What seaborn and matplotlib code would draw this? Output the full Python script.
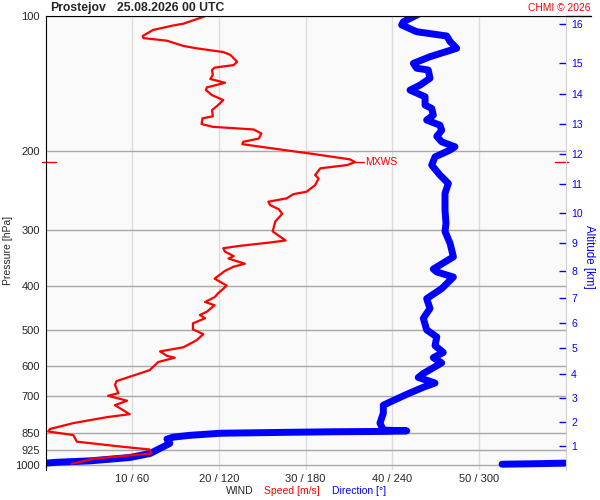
import numpy as np
import pandas as pd
import seaborn as sns
import matplotlib.pyplot as plt
import matplotlib.transforms as mtransforms
from matplotlib.lines import Line2D
from matplotlib.ticker import NullLocator

STATION = 'Prostejov'
TIMESTAMP = '25.08.2026 00 UTC'

# wind speed profile (hPa -> m/s), top to bottom
speed_pres = [99.5, 100.3, 104, 105, 107.4, 110.8, 112, 113.5, 116.6, 118,
              120.3, 122, 126.4, 128.6, 130.3, 131.9, 135.3, 138.1, 140.8, 144.2,
              146.2, 150, 153.9, 157.9, 162, 167.2, 169, 174, 176.5, 178.9,
              182.6, 187.4, 190.6, 192.9, 197.3, 203, 208.5, 211.4, 214.7, 218.3,
              226, 229.9, 238, 246.2, 249.2, 254.7, 259.1, 263.6, 269.3, 275.7,
              286.7, 301.7, 308.5, 316, 319.3, 324.9, 328.8, 334.7, 342.4, 346.7,
              356.1, 361.4, 369.3, 384.3, 398.4, 414.3, 422.6, 433.2, 440.5, 455.4,
              463.1, 470.9, 483.2, 498.4, 510.9, 527.3, 546.3, 558.1, 571.1, 576.4,
              589.2, 614.4, 649.7, 662.1, 691.2, 700.7, 718.6, 735.3, 770, 781.6,
              806, 830.7, 841.3, 857, 886.4, 910.5, 922.6, 942, 967, 993]
speed_vals = [17.5, 18.3, 15.9, 14.7, 12.4, 11.2, 11.3, 14.0, 15.9, 17.4,
              20.5, 21.3, 22.1, 21.7, 19.5, 19.2, 19.3, 19.0, 20.7, 18.6,
              18.5, 19.2, 20.5, 19.9, 19.2, 19.3, 18.1, 18.0, 19.3, 24.0,
              24.9, 24.6, 22.8, 22.7, 26.3, 31.0, 35.1, 35.7, 34.8, 31.7,
              31.1, 31.5, 31.1, 30.1, 28.6, 27.8, 25.7, 25.9, 26.9, 27.3,
              26.5, 26.2, 26.9, 27.7, 25.9, 22.4, 20.5, 20.7, 21.7, 21.1,
              23.0, 21.7, 20.7, 19.5, 20.9, 19.9, 19.5, 18.4, 19.5, 18.6,
              17.8, 18.4, 17.0, 17.0, 18.2, 17.4, 15.9, 13.2, 14.0, 14.9,
              13.0, 12.0, 8.2, 8.0, 8.4, 7.2, 9.4, 8.0, 9.7, 7.1,
              3.2, 0.5, 0.3, 3.2, 3.6, 9.0, 12.0, 12.2, 5.6, 3.0]

# wind direction profile (hPa -> deg), top to bottom
dir_pres = [98, 103, 104.7, 108.4, 110.8, 114, 118, 123.2, 127.5, 130.7,
            131.9, 137.6, 142.5, 146.2, 151.3, 157.9, 160.6, 166.2, 170.5, 175,
            179.7, 185.3, 190.6, 195.5, 198.8, 205.9, 214.7, 226, 235.9, 248.3,
            270.7, 289.5, 301.7, 320.7, 343.7, 365.9, 371.4, 381.2, 404.5, 425.9,
            447.8, 470.9, 499.8, 518.2, 541.9, 561.1, 576.3, 592, 625, 637.9,
            656.3, 670.6, 695.5, 723.5, 735.3, 766, 806, 835.5, 838.5, 841,
            842.5, 845, 849, 858, 866, 875, 894, 910, 922.6, 941.8,
            961.3, 978.2, 985, 989.5, 989.5, 991, 993, 995]
dir_vals = [261, 247.7, 246.5, 256.9, 277.7, 280, 284.6, 266.1, 254.6, 256.9,
            264.9, 266.1, 259.2, 252.3, 262.7, 262.7, 267.3, 268.4, 263.8, 273,
            274.2, 270.8, 274.2, 283.4, 280, 269.6, 267.3, 273, 278.8, 276.5,
            276.5, 277.2, 276.5, 280, 282.3, 268.4, 270.8, 282.3, 274.2, 263.8,
            266.1, 261.5, 263.8, 270.8, 269.6, 275.3, 268.4, 274.2, 261.5, 258,
            269.6, 261.5, 250, 238.4, 233.8, 233.8, 231.5, 233.8, 250, 236,
            200, 167, 121, 100, 88.4, 84, 86, 81.5, 77.8, 72.3,
            58.4, 30.7, 8, 0.5, 359.5, 350, 335, 316]

pres_ticks = [100, 200, 300, 400, 500, 600, 700, 850, 925, 1000]
speed_ticks = [10, 20, 30, 40, 50]
dir_ticks = [60, 120, 180, 240, 300]

alt_km = list(range(1, 17))
alt_pres = [907, 803.4, 709.5, 626, 549.6, 483.5, 424, 369.1,
            320.3, 274.7, 236.4, 203, 173.8, 149.4, 127.4, 104.4]

RED = '#ff0000'
BLUE = '#0000ff'

sns.set_style('white')
plt.rcParams['font.family'] = ['Liberation Sans', 'DejaVu Sans']

df_speed = pd.DataFrame({'p': speed_pres, 'speed': speed_vals})
df_dir = pd.DataFrame({'p': dir_pres, 'dir': dir_vals})
# break the line where direction wraps through north
df_dir['seg'] = np.concatenate([[0], np.cumsum(np.abs(np.diff(df_dir['dir'])) > 180)])

fig = plt.figure(figsize=(6, 5), dpi=100)
rect = [0.076, 0.06, 0.8667, 0.908]

# direction axes underneath (carries the grid)
axd = fig.add_axes(rect)
axd.set_facecolor('#fafafa')
sns.lineplot(data=df_dir, x='dir', y='p', units='seg', estimator=None, sort=False,
             orient='y', color=BLUE, lw=5, legend=False, ax=axd)
axd.set_yscale('log')
axd.set_ylim(1025, 100)
axd.set_xlim(0, 360)
axd.set_xticks(dir_ticks)
axd.set_yticks(pres_ticks)
axd.yaxis.set_minor_locator(NullLocator())
axd.grid(axis='x', color='#dcdcdc', lw=1)
axd.grid(axis='y', color='#a8a8a8', lw=1)
axd.tick_params(left=False, bottom=False, labelleft=False, labelbottom=False)
axd.set_xlabel('')
axd.set_ylabel('')
for s in axd.spines.values():
    s.set_visible(False)

# speed axes on top
ax = fig.add_axes(rect, sharey=axd)
ax.patch.set_alpha(0)
sns.lineplot(data=df_speed, x='speed', y='p', estimator=None, sort=False,
             orient='y', color=RED, lw=1.6, ax=ax)
ax.set_xlim(0, 60)
ax.set_xticks(speed_ticks, [f'{s} / {d}' for s, d in zip(speed_ticks, dir_ticks)])
ax.set_yticks(pres_ticks, [str(p) for p in pres_ticks])
ax.yaxis.set_minor_locator(NullLocator())
ax.set_ylim(1025, 100)
ax.tick_params(axis='both', length=0, labelsize=8)
ax.tick_params(axis='x', pad=3)
ax.tick_params(axis='y', pad=4)
ax.set_xlabel('')
ax.set_ylabel('')
ax.spines['left'].set_color('black')
ax.spines['top'].set_color('black')
ax.spines['bottom'].set_visible(False)
ax.spines['right'].set_visible(False)

# max wind marker
imax = int(np.argmax(speed_vals))
p_mx, s_mx = speed_pres[imax], speed_vals[imax]
ax.plot([s_mx, s_mx + 1.0], [p_mx, p_mx], color=RED, lw=1)
ax.text(s_mx + 1.2, p_mx, 'MXWS', color=RED, fontsize=7.5, va='center')
trans = mtransforms.blended_transform_factory(ax.transAxes, ax.transData)
ax.plot([-0.006, 0.02], [p_mx, p_mx], color=RED, lw=1, transform=trans, clip_on=False)
ax.plot([0.98, 1.005], [p_mx, p_mx], color=RED, lw=1, transform=trans, clip_on=False)

# altitude axis
ax2 = ax.twinx()
ax2.set_yscale('log')
ax2.set_ylim(1025, 100)
ax2.set_yticks(alt_pres, [str(k) for k in alt_km])
ax2.yaxis.set_minor_locator(NullLocator())
ax2.tick_params(axis='y', colors=BLUE, direction='in', length=5, width=1,
                pad=4, labelsize=7.5)
for side in ['left', 'top', 'bottom']:
    ax2.spines[side].set_visible(False)
ax2.spines['right'].set_color('#d0d0d0')

# header and footer texts
fig.add_artist(Line2D([0.9427, 0.985], [0.968, 0.968], color='black', lw=1))
fig.text(50 / 600, 1 - 8 / 500, STATION, fontsize=8.8, fontweight='bold', va='center')
fig.text(117 / 600, 1 - 8 / 500, TIMESTAMP, fontsize=8.8, fontweight='bold', va='center')
fig.text(591 / 600, 1 - 8 / 500, 'CHMI © 2026', fontsize=7.4, color=RED,
         ha='right', va='center')
fig.text(8 / 600, 1 - 250 / 500, 'Pressure [hPa]', fontsize=7.5,
         rotation=90, ha='center', va='center')
fig.text(589 / 600, 1 - 257 / 500, 'Altitude [km]', fontsize=8.3, color=BLUE,
         rotation=-90, ha='center', va='center')
fig.text(226 / 600, 1 - 491 / 500, 'WIND', fontsize=7.5, va='center')
fig.text(264.5 / 600, 1 - 491 / 500, 'Speed [m/s]', fontsize=7.5, color=RED, va='center')
fig.text(332 / 600, 1 - 491 / 500, 'Direction [°]', fontsize=7.5, color=BLUE, va='center')

fig.savefig('out.png', dpi=100)
